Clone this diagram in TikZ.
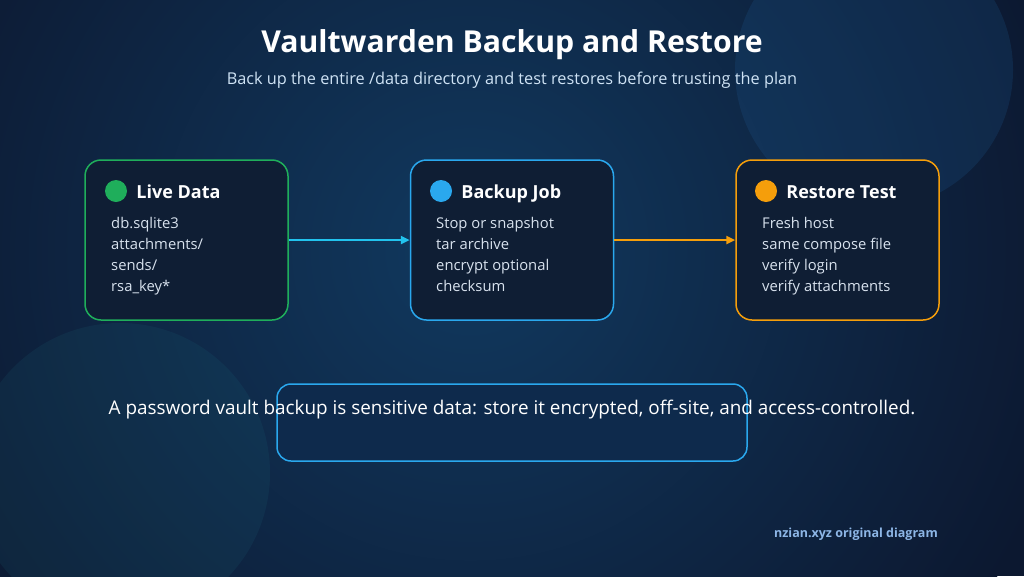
\documentclass[tikz,border=0pt]{standalone}
\usepackage{fontspec}
\setmainfont{Open Sans}
\usetikzlibrary{positioning,arrows.meta}

\definecolor{bgdark}{HTML}{0C1830}
\definecolor{bgglow}{HTML}{11395F}
\definecolor{cardfill}{HTML}{0F1E34}
\definecolor{notefill}{HTML}{0E2A4C}
\definecolor{livegreen}{HTML}{1FAE5B}
\definecolor{jobblue}{HTML}{2AA8EE}
\definecolor{testorange}{HTML}{F59E0B}
\definecolor{linkcyan}{HTML}{22C3EE}
\definecolor{itemgrey}{HTML}{D8E2EE}
\definecolor{subblue}{HTML}{CFE3F5}
\definecolor{creditblue}{HTML}{8DB6E6}
\definecolor{orbblue}{HTML}{1E5A92}
\definecolor{orbteal}{HTML}{1E7283}

\tikzset{
  card/.style={draw=#1, line width=1.5pt, fill=cardfill, rounded corners=16pt,
    minimum width=203pt, minimum height=160pt, inner sep=0pt},
  dot/.style={circle, fill=#1, minimum size=22pt, inner sep=0pt},
  head/.style={text=white, font=\bfseries\fontsize{18}{21}\selectfont, inner sep=0pt,
    text height=13pt, text depth=4pt, yshift=-2.5pt},
  items/.style={text=itemgrey, font=\fontsize{14.8}{21}\selectfont, align=left,
    inner sep=0pt, anchor=north west},
  flow/.style={draw=#1, line width=2.5pt, -{Triangle[length=9pt,width=8pt]}},
}

\begin{document}
\begin{tikzpicture}[x=1pt, y=-1pt]
  \useasboundingbox (0,0) rectangle (1024,576);

  % background
  \fill[bgdark] (0,0) rectangle (1024,576);
  \begin{scope}
    \clip (0,0) rectangle (1024,576);
    \shade[inner color=bgglow, outer color=bgdark] (470,250) circle (620);
    \fill[orbblue, opacity=0.22] (874,70) circle (139);
    \fill[orbteal, opacity=0.13] (120,473) circle (150);
  \end{scope}

  % title
  \node[text=white, font=\bfseries\fontsize{30.2}{34}\selectfont] (title) at (512,45) {Vaultwarden Backup and Restore};
  \node[text=subblue, font=\fontsize{16.3}{19}\selectfont] (subtitle) at (512,80) {Back up the entire /data directory and test restores before trusting the plan};

  % live data
  \node[card=livegreen] (live) at (186.5,240) {};
  \node[dot=livegreen] (livedot) at (116,191) {};
  \node[head, anchor=west, right=9pt of livedot] (livehead) {Live Data};
  \node[items] (liveitems) at (111,217) {db.sqlite3\\attachments/\\sends/\\rsa\_key*};

  % backup job
  \node[card=jobblue] (job) at (512,240) {};
  \node[dot=jobblue] (jobdot) at (441,191) {};
  \node[head, anchor=west, right=9pt of jobdot] (jobhead) {Backup Job};
  \node[items] (jobitems) at (436,217) {Stop or snapshot\\tar archive\\encrypt optional\\checksum};

  % restore test
  \node[card=testorange] (test) at (837.5,240) {};
  \node[dot=testorange] (testdot) at (766,191) {};
  \node[head, anchor=west, right=9pt of testdot] (testhead) {Restore Test};
  \node[items] (testitems) at (762,217) {Fresh host\\same compose file\\verify login\\verify attachments};

  % links
  \draw[flow=linkcyan] (live.east) -- (job.west);
  \draw[flow=testorange] (job.east) -- (test.west);

  % warning note
  \node[draw=jobblue, line width=1.5pt, fill=notefill, rounded corners=14pt,
    minimum width=470pt, minimum height=77pt] (notebox) at (512,422.5) {};
  \node[text=white, font=\fontsize{18.9}{22}\selectfont] (notetext) at (512,410) {A password vault backup is sensitive data: store it encrypted, off-site, and access-controlled.};

  % credit
  \node[anchor=east, inner sep=0pt, text=creditblue, font=\bfseries\fontsize{12.5}{15}\selectfont] (credit) at (938,534) {nzian.xyz original diagram};
\end{tikzpicture}
\end{document}
